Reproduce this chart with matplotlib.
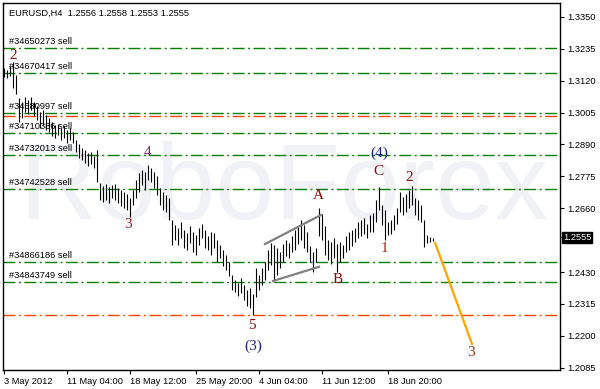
import matplotlib
matplotlib.use('Agg')
import numpy as np
from matplotlib import pyplot as plt

# EURUSD H4 bars (high / low)
highs = [1.3166, 1.3159, 1.3173, 1.3188, 1.3141, 1.3058, 1.3044, 1.3062, 1.3051, 1.3062,
         1.3044, 1.3029, 1.3008, 1.3015, 1.2997, 1.2986, 1.2972, 1.2961, 1.2965, 1.2950,
         1.2957, 1.2943, 1.2950, 1.2936, 1.2907, 1.2893, 1.2878, 1.2871, 1.2860, 1.2864,
         1.2849, 1.2871, 1.2751, 1.2740, 1.2748, 1.2737, 1.2744, 1.2748, 1.2733, 1.2726,
         1.2719, 1.2712, 1.2697, 1.2726, 1.2762, 1.2787, 1.2798, 1.2791, 1.2816, 1.2805,
         1.2791, 1.2776, 1.2733, 1.2719, 1.2708, 1.2697, 1.2618, 1.2600, 1.2589, 1.2611,
         1.2582, 1.2571, 1.2596, 1.2575, 1.2564, 1.2589, 1.2604, 1.2582, 1.2561, 1.2575,
         1.2571, 1.2546, 1.2528, 1.2510, 1.2492, 1.2467, 1.2420, 1.2402, 1.2391, 1.2409,
         1.2384, 1.2366, 1.2373, 1.2352, 1.2445, 1.2420, 1.2445, 1.2467, 1.2510, 1.2535,
         1.2528, 1.2517, 1.2503, 1.2532, 1.2546, 1.2535, 1.2561, 1.2582, 1.2596, 1.2618,
         1.2600, 1.2575, 1.2524, 1.2503, 1.2517, 1.2661, 1.2640, 1.2596, 1.2546, 1.2539,
         1.2553, 1.2532, 1.2539, 1.2528, 1.2561, 1.2575, 1.2582, 1.2589, 1.2611, 1.2618,
         1.2625, 1.2604, 1.2636, 1.2643, 1.2690, 1.2737, 1.2672, 1.2654, 1.2611, 1.2618,
         1.2636, 1.2661, 1.2719, 1.2701, 1.2712, 1.2726, 1.2740, 1.2697, 1.2690, 1.2672,
         1.2618, 1.2564, 1.2557, 1.2553]
lows = [1.3134, 1.3130, 1.3137, 1.3094, 1.3073, 1.2972, 1.2986, 1.3008, 1.3001, 1.3015,
        1.2994, 1.2979, 1.2950, 1.2961, 1.2943, 1.2936, 1.2922, 1.2914, 1.2925, 1.2907,
        1.2914, 1.2896, 1.2907, 1.2896, 1.2864, 1.2842, 1.2834, 1.2824, 1.2813, 1.2820,
        1.2806, 1.2755, 1.2690, 1.2683, 1.2690, 1.2679, 1.2697, 1.2690, 1.2679, 1.2668,
        1.2661, 1.2654, 1.2629, 1.2672, 1.2697, 1.2719, 1.2744, 1.2726, 1.2762, 1.2755,
        1.2733, 1.2708, 1.2672, 1.2654, 1.2647, 1.2618, 1.2528, 1.2546, 1.2528, 1.2553,
        1.2517, 1.2510, 1.2535, 1.2503, 1.2492, 1.2528, 1.2553, 1.2517, 1.2510, 1.2492,
        1.2517, 1.2467, 1.2481, 1.2452, 1.2438, 1.2416, 1.2366, 1.2359, 1.2344, 1.2355,
        1.2330, 1.2308, 1.2301, 1.2276, 1.2341, 1.2366, 1.2384, 1.2402, 1.2438, 1.2456,
        1.2398, 1.2420, 1.2445, 1.2467, 1.2488, 1.2481, 1.2503, 1.2510, 1.2532, 1.2546,
        1.2517, 1.2503, 1.2467, 1.2431, 1.2467, 1.2561, 1.2546, 1.2492, 1.2474, 1.2460,
        1.2481, 1.2431, 1.2467, 1.2481, 1.2503, 1.2510, 1.2524, 1.2539, 1.2553, 1.2561,
        1.2568, 1.2553, 1.2575, 1.2575, 1.2611, 1.2654, 1.2600, 1.2546, 1.2564, 1.2568,
        1.2582, 1.2604, 1.2647, 1.2636, 1.2647, 1.2661, 1.2672, 1.2636, 1.2618, 1.2611,
        1.2521, 1.2535, 1.2539, 1.2542]

time_pos = [0, 21, 42, 64, 85, 106, 128]
time_labels = ['3 May 2012', '11 May 04:00', '18 May 12:00', '25 May 20:00',
               '4 Jun 04:00', '11 Jun 12:00', '18 Jun 20:00']
price_ticks = [1.3350, 1.3235, 1.3120, 1.3005, 1.2890, 1.2775,
               1.2660, 1.2555, 1.2430, 1.2315, 1.2200, 1.2085]
price_tick_labels = ['1.3350', '1.3235', '1.3120', '1.3005', '1.2890', '1.2775',
                     '1.2660', '', '1.2430', '1.2315', '1.2200', '1.2085']

orders = ['#34650273 sell', '#34670417 sell', '#34680997 sell', '#34710386 sell',
          '#34732013 sell', '#34742528 sell', '#34866186 sell', '#34843749 sell']
order_prices = [1.3238, 1.3148, 1.3004, 1.2932, 1.2853, 1.2730, 1.2467, 1.2395]
stop_levels = [1.2993, 1.2276]

# wave marks: text, bar index, price, colour
waves = ['2', '3', '4', '5', '(3)', 'A', 'B', 'C', '(4)', '1', '2', '3']
wave_x = [3, 41.3, 48, 82.7, 83, 104.7, 111.3, 124.7, 125, 126.7, 135, 155.7]
wave_y = [1.3209, 1.2600, 1.2860, 1.2236, 1.2164, 1.2705, 1.2402, 1.2791, 1.2860,
          1.2514, 1.2770, 1.2139]
wave_colors = ['#8b0a0a', '#9a1a20', '#7a2a6a', '#8b0a0a', '#20208f', '#8b0a0a',
               '#8b0a0a', '#8b0a0a', '#20208f', '#a0300f', '#8b0a0a', '#a0300f']

# triangle sides and forecast
tri_upper_x, tri_upper_y = [87, 105.7], [1.2531, 1.2636]
tri_lower_x, tri_lower_y = [89.7, 105], [1.2398, 1.2449]
fc_x, fc_y = [143.7, 156], [1.2535, 1.2171]

fig = plt.figure(figsize=(6, 3.89), dpi=100)
ax = fig.add_axes([3 / 600, 19 / 389, 557 / 600, 367 / 389])
ax.set_xlim(-0.33, 185.33)
ax.set_ylim(1.2077, 1.3400)

font = 'Liberation Sans'
ax.text(0.03, 0.412, 'RoboForex', transform=ax.transAxes, fontsize=77,
        family=font, color='#f0f2f6', ha='left', va='baseline', zorder=0)

dd = (0, (8.6, 2.5, 1.4, 2.5))
for name, p in zip(orders, order_prices):
    ax.axhline(p, color='#008000', lw=1, ls=dd, zorder=1)
    ax.annotate(name, (1.7, p), xytext=(0, 1.2), textcoords='offset points',
                fontsize=6.7, family=font, va='bottom', ha='left', zorder=4)
for p in stop_levels:
    ax.axhline(p, color='#ff4500', lw=1, ls=dd, zorder=1)

idx = np.arange(len(highs))
ax.vlines(idx, lows, highs, color='black', lw=0.8, zorder=3)

ax.plot(tri_upper_x, tri_upper_y, color='#808080', lw=1.6, zorder=3)
ax.plot(tri_lower_x, tri_lower_y, color='#808080', lw=1.6, zorder=3)
ax.plot(fc_x, fc_y, color='#ffa500', lw=1.6, zorder=3)

for t, x, y, c in zip(waves, wave_x, wave_y, wave_colors):
    ax.text(x, y, t, color=c, fontsize=11, family='Liberation Serif',
            ha='center', va='center', zorder=5)

ax.text(0.011, 0.985, 'EURUSD,H4  1.2556 1.2558 1.2553 1.2555', transform=ax.transAxes,
        fontsize=6.7, family=font, va='top', ha='left')

ax.yaxis.tick_right()
ax.set_yticks(price_ticks)
ax.set_yticklabels(price_tick_labels, family=font)
ax.set_xticks(time_pos)
ax.set_xticklabels(time_labels, family=font, ha='left')
ax.tick_params(axis='both', direction='out', length=3, width=0.8, labelsize=6.7, pad=2)

ax.annotate('1.2555', xy=(1, 1.2555), xycoords=('axes fraction', 'data'),
            xytext=(2, 0), textcoords='offset points', va='center', ha='left',
            color='white', fontsize=6.7, family=font, annotation_clip=False,
            bbox=dict(boxstyle='square,pad=0.12', fc='black', ec='black'))

for s in ax.spines.values():
    s.set_linewidth(1)

plt.savefig('out.png', dpi=100)
